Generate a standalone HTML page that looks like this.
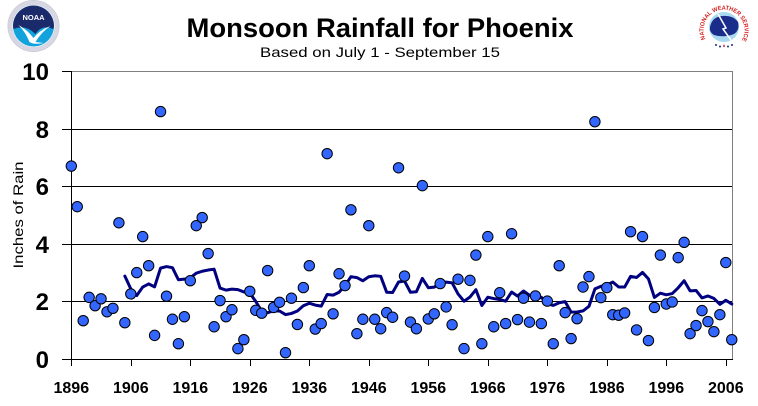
<!DOCTYPE html>
<html>
<head>
<meta charset="utf-8">
<style>
html,body{margin:0;padding:0;background:#fff;}
svg{display:block;}
text{font-family:"Liberation Sans",Arial,sans-serif;}
</style>
</head>
<body>
<svg width="758" height="406" viewBox="0 0 758 406" xmlns="http://www.w3.org/2000/svg">
<defs>
  <g id="d"><circle r="5.2" transform="scale(0.168067 0.0347222)" fill="#3366ff" stroke="#000" stroke-width="1"/></g>
  <path id="nwsarc" d="M 705.5 39 A 20.5 20.5 0 1 1 742.5 39"/>
</defs>
<rect width="758" height="406" fill="#fff"/>

<g transform="translate(33.5,26)">
  <circle r="25.5" fill="#fff" stroke="#c9cad6" stroke-width="1"/>
  <circle r="23" fill="none" stroke="#d6d7e2" stroke-width="4"/>
  <circle r="20.5" fill="#12a3dc"/>
  <path d="M -20.5 0 A 20.5 20.5 0 0 1 20.5 0 L 20 3 Q 8 -2 2 8 Q -8 -2 -20 3 Z" fill="#1b2a6b"/>
  <path d="M -15 -1 Q -6 4 0 12 Q 6 4 17 0 Q 8 6 2 16 L 10 17 Q 0 19 -4 16 Q -8 6 -15 -1 Z" fill="#fff"/>
  <text x="0" y="-6" font-size="7.5" font-weight="bold" fill="#fff" text-anchor="middle">NOAA</text>
</g>

<g>
  <circle cx="724" cy="27" r="24" fill="#fff"/>
  <circle cx="724" cy="27" r="15" fill="#a9d9ef"/>
  <path d="M 710 27 Q 712 17 722 16 Q 733 15 738 22 Q 740 30 734 34 Q 724 38 714 35 Q 709 32 710 27 Z" fill="#1a2d8a"/>
  <path d="M 718 14 L 726 28 L 723 29 L 731 40" fill="none" stroke="#fff" stroke-width="1.5"/>
  <text font-size="6" font-weight="bold" fill="#d42020"><textPath href="#nwsarc" textLength="84" lengthAdjust="spacingAndGlyphs">NATIONAL WEATHER SERVICE</textPath></text>
  <circle cx="716" cy="45" r="1" fill="#1a2d8a"/>
  <circle cx="720" cy="46.5" r="1" fill="#1a2d8a"/>
  <circle cx="728" cy="46.5" r="1" fill="#1a2d8a"/>
  <circle cx="732" cy="45" r="1" fill="#1a2d8a"/>
  <path d="M 724 44 L 725.2 46.8 L 722.8 46.8 Z" fill="#d42020"/>
</g>

<text x="380" y="37" font-size="27" font-weight="bold" text-anchor="middle" textLength="387" lengthAdjust="spacingAndGlyphs">Monsoon Rainfall for Phoenix</text>
<text x="380" y="57" font-size="14" text-anchor="middle" textLength="240" lengthAdjust="spacingAndGlyphs">Based on July 1 - September 15</text>

<line x1="71" y1="71.5" x2="733" y2="71.5" stroke="#808080" stroke-width="1"/>
<line x1="732.5" y1="71" x2="732.5" y2="359" stroke="#808080" stroke-width="1"/>
<g stroke="#000" stroke-width="1">
  <line x1="71" y1="129.5" x2="732" y2="129.5"/>
  <line x1="71" y1="186.5" x2="732" y2="186.5"/>
  <line x1="71" y1="244.5" x2="732" y2="244.5"/>
  <line x1="71" y1="301.5" x2="732" y2="301.5"/>
  <line x1="71.5" y1="71" x2="71.5" y2="360"/>
  <line x1="62" y1="359.5" x2="733" y2="359.5"/>
  <line x1="62" y1="71.5" x2="71" y2="71.5"/>
  <line x1="62" y1="129.5" x2="71" y2="129.5"/>
  <line x1="62" y1="186.5" x2="71" y2="186.5"/>
  <line x1="62" y1="244.5" x2="71" y2="244.5"/>
  <line x1="62" y1="301.5" x2="71" y2="301.5"/>
  <line x1="71.5" y1="359" x2="71.5" y2="366"/>
  <line x1="131.5" y1="359" x2="131.5" y2="366"/>
  <line x1="190.5" y1="359" x2="190.5" y2="366"/>
  <line x1="250.5" y1="359" x2="250.5" y2="366"/>
  <line x1="309.5" y1="359" x2="309.5" y2="366"/>
  <line x1="369.5" y1="359" x2="369.5" y2="366"/>
  <line x1="428.5" y1="359" x2="428.5" y2="366"/>
  <line x1="488.5" y1="359" x2="488.5" y2="366"/>
  <line x1="547.5" y1="359" x2="547.5" y2="366"/>
  <line x1="607.5" y1="359" x2="607.5" y2="366"/>
  <line x1="666.5" y1="359" x2="666.5" y2="366"/>
  <line x1="726.5" y1="359" x2="726.5" y2="366"/>
</g>

<g font-size="24" font-weight="bold" text-anchor="end">
  <text x="49" y="80">10</text>
  <text x="49" y="138">8</text>
  <text x="49" y="195">6</text>
  <text x="49" y="253">4</text>
  <text x="49" y="310">2</text>
  <text x="49" y="368">0</text>
</g>
<text x="23" y="215" font-size="14" text-anchor="middle" textLength="107" lengthAdjust="spacingAndGlyphs" transform="rotate(-90 23 215)">Inches of Rain</text>

<g font-size="16" font-weight="bold" text-anchor="middle">
  <text x="71.3" y="393">1896</text>
  <text x="130.8" y="393">1906</text>
  <text x="190.3" y="393">1916</text>
  <text x="249.8" y="393">1926</text>
  <text x="309.3" y="393">1936</text>
  <text x="368.8" y="393">1946</text>
  <text x="428.3" y="393">1956</text>
  <text x="487.8" y="393">1966</text>
  <text x="547.3" y="393">1976</text>
  <text x="606.8" y="393">1986</text>
  <text x="666.3" y="393">1996</text>
  <text x="725.8" y="393">2006</text>
</g>

<g transform="translate(71.3 359) scale(5.95 -28.8)">
  <polyline fill="none" stroke="#000080" stroke-width="3" vector-effect="non-scaling-stroke" stroke-linejoin="round" stroke-linecap="round" points="9,2.879 10,2.435 11,2.206 12,2.498 13,2.608 14,2.505 15,3.155 16,3.209 17,3.171 18,2.751 19,2.772 20,2.818 21,2.981 22,3.047 23,3.089 24,3.119 25,2.463 26,2.392 27,2.425 28,2.408 29,2.328 30,2.291 31,1.997 32,1.665 33,1.606 34,1.673 35,1.667 36,1.542 37,1.582 38,1.666 39,1.847 40,1.936 41,1.871 42,1.835 43,2.241 44,2.219 45,2.318 46,2.551 47,2.858 48,2.826 49,2.716 50,2.855 51,2.889 52,2.871 53,2.319 54,2.307 55,2.675 56,2.708 57,2.318 58,2.335 59,2.799 60,2.475 61,2.494 62,2.651 63,2.671 64,2.645 65,2.258 66,2.006 67,2.151 68,2.407 69,1.858 70,2.144 71,2.099 72,2.067 73,2.009 74,2.325 75,2.185 76,2.360 77,2.215 78,2.073 79,2.143 80,1.919 81,1.860 82,1.954 83,1.992 84,1.628 85,1.631 86,1.670 87,1.828 88,2.433 89,2.523 90,2.570 91,2.671 92,2.499 93,2.498 94,2.869 95,2.830 96,3.005 97,2.783 98,2.138 99,2.286 100,2.229 101,2.273 102,2.473 103,2.718 104,2.364 105,2.379 106,2.122 107,2.188 108,2.104 109,1.897 110,2.041 111,1.910"/>
  <use href="#d" x="0" y="6.70"/>
  <use href="#d" x="1" y="5.29"/>
  <use href="#d" x="2" y="1.33"/>
  <use href="#d" x="3" y="2.14"/>
  <use href="#d" x="4" y="1.85"/>
  <use href="#d" x="5" y="2.09"/>
  <use href="#d" x="6" y="1.64"/>
  <use href="#d" x="7" y="1.76"/>
  <use href="#d" x="8" y="4.73"/>
  <use href="#d" x="9" y="1.26"/>
  <use href="#d" x="10" y="2.26"/>
  <use href="#d" x="11" y="3.00"/>
  <use href="#d" x="12" y="4.25"/>
  <use href="#d" x="13" y="3.24"/>
  <use href="#d" x="14" y="0.82"/>
  <use href="#d" x="15" y="8.59"/>
  <use href="#d" x="16" y="2.18"/>
  <use href="#d" x="17" y="1.38"/>
  <use href="#d" x="18" y="0.53"/>
  <use href="#d" x="19" y="1.47"/>
  <use href="#d" x="20" y="2.72"/>
  <use href="#d" x="21" y="4.63"/>
  <use href="#d" x="22" y="4.91"/>
  <use href="#d" x="23" y="3.66"/>
  <use href="#d" x="24" y="1.12"/>
  <use href="#d" x="25" y="2.03"/>
  <use href="#d" x="26" y="1.47"/>
  <use href="#d" x="27" y="1.71"/>
  <use href="#d" x="28" y="0.36"/>
  <use href="#d" x="29" y="0.67"/>
  <use href="#d" x="30" y="2.35"/>
  <use href="#d" x="31" y="1.69"/>
  <use href="#d" x="32" y="1.59"/>
  <use href="#d" x="33" y="3.07"/>
  <use href="#d" x="34" y="1.79"/>
  <use href="#d" x="35" y="1.97"/>
  <use href="#d" x="36" y="0.22"/>
  <use href="#d" x="37" y="2.11"/>
  <use href="#d" x="38" y="1.20"/>
  <use href="#d" x="39" y="2.48"/>
  <use href="#d" x="40" y="3.24"/>
  <use href="#d" x="41" y="1.04"/>
  <use href="#d" x="42" y="1.23"/>
  <use href="#d" x="43" y="7.13"/>
  <use href="#d" x="44" y="1.57"/>
  <use href="#d" x="45" y="2.96"/>
  <use href="#d" x="46" y="2.55"/>
  <use href="#d" x="47" y="5.18"/>
  <use href="#d" x="48" y="0.88"/>
  <use href="#d" x="49" y="1.38"/>
  <use href="#d" x="50" y="4.63"/>
  <use href="#d" x="51" y="1.38"/>
  <use href="#d" x="52" y="1.05"/>
  <use href="#d" x="53" y="1.61"/>
  <use href="#d" x="54" y="1.45"/>
  <use href="#d" x="55" y="6.64"/>
  <use href="#d" x="56" y="2.88"/>
  <use href="#d" x="57" y="1.28"/>
  <use href="#d" x="58" y="1.05"/>
  <use href="#d" x="59" y="6.02"/>
  <use href="#d" x="60" y="1.39"/>
  <use href="#d" x="61" y="1.57"/>
  <use href="#d" x="62" y="2.62"/>
  <use href="#d" x="63" y="1.81"/>
  <use href="#d" x="64" y="1.19"/>
  <use href="#d" x="65" y="2.77"/>
  <use href="#d" x="66" y="0.36"/>
  <use href="#d" x="67" y="2.73"/>
  <use href="#d" x="68" y="3.61"/>
  <use href="#d" x="69" y="0.53"/>
  <use href="#d" x="70" y="4.25"/>
  <use href="#d" x="71" y="1.12"/>
  <use href="#d" x="72" y="2.30"/>
  <use href="#d" x="73" y="1.23"/>
  <use href="#d" x="74" y="4.35"/>
  <use href="#d" x="75" y="1.37"/>
  <use href="#d" x="76" y="2.11"/>
  <use href="#d" x="77" y="1.28"/>
  <use href="#d" x="78" y="2.19"/>
  <use href="#d" x="79" y="1.23"/>
  <use href="#d" x="80" y="2.01"/>
  <use href="#d" x="81" y="0.53"/>
  <use href="#d" x="82" y="3.24"/>
  <use href="#d" x="83" y="1.61"/>
  <use href="#d" x="84" y="0.71"/>
  <use href="#d" x="85" y="1.40"/>
  <use href="#d" x="86" y="2.50"/>
  <use href="#d" x="87" y="2.86"/>
  <use href="#d" x="88" y="8.24"/>
  <use href="#d" x="89" y="2.13"/>
  <use href="#d" x="90" y="2.48"/>
  <use href="#d" x="91" y="1.54"/>
  <use href="#d" x="92" y="1.52"/>
  <use href="#d" x="93" y="1.60"/>
  <use href="#d" x="94" y="4.42"/>
  <use href="#d" x="95" y="1.01"/>
  <use href="#d" x="96" y="4.25"/>
  <use href="#d" x="97" y="0.64"/>
  <use href="#d" x="98" y="1.79"/>
  <use href="#d" x="99" y="3.61"/>
  <use href="#d" x="100" y="1.91"/>
  <use href="#d" x="101" y="1.98"/>
  <use href="#d" x="102" y="3.52"/>
  <use href="#d" x="103" y="4.05"/>
  <use href="#d" x="104" y="0.88"/>
  <use href="#d" x="105" y="1.16"/>
  <use href="#d" x="106" y="1.68"/>
  <use href="#d" x="107" y="1.30"/>
  <use href="#d" x="108" y="0.95"/>
  <use href="#d" x="109" y="1.54"/>
  <use href="#d" x="110" y="3.35"/>
  <use href="#d" x="111" y="0.67"/>
</g>
</svg>
</body>
</html>
